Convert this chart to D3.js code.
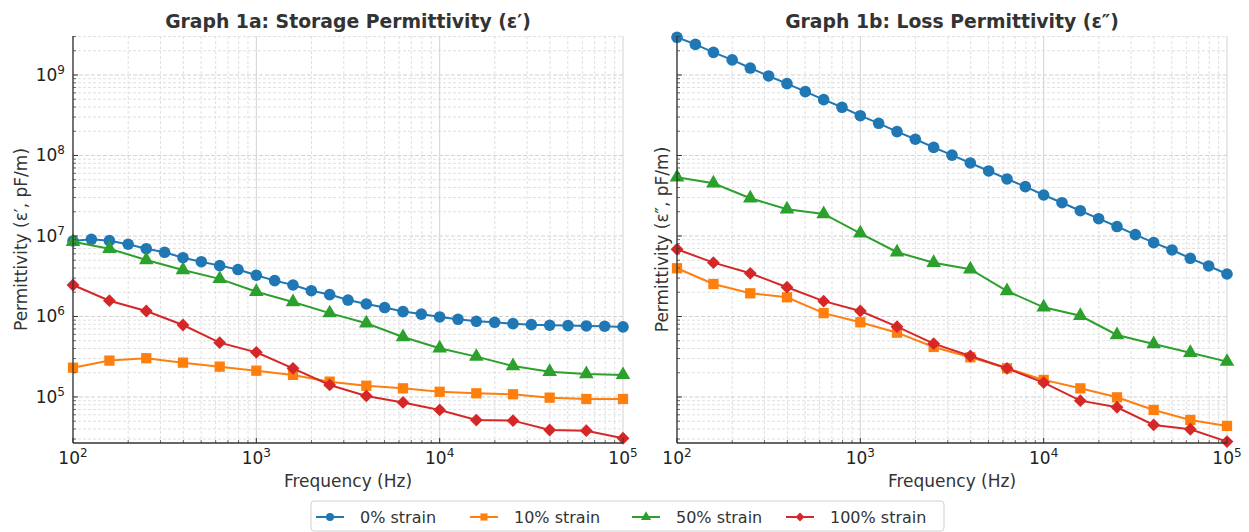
<!DOCTYPE html>
<html>
<head>
<meta charset="utf-8">
<script src="https://cdn.jsdelivr.net/npm/d3@7"></script>
<style>
  body { margin: 0; background: #fff; }
  svg { display: block; font-family: "DejaVu Sans", sans-serif; }
</style>
</head>
<body>
<svg id="chart" width="1249" height="532"></svg>
<script>
// frequencies (Hz)
const freqFine = [100, 126, 158, 200, 251, 316, 398, 501, 631, 794,
  1000, 1259, 1585, 1995, 2512, 3162, 3981, 5012, 6310, 7943,
  10000, 12589, 15849, 19953, 25119, 31623, 39811, 50119, 63096, 79433, 100000];
const freqCoarse = [100, 158, 251, 398, 631, 1000, 1585, 2512, 3981, 6310,
  10000, 15849, 25119, 39811, 63096, 100000];

const seriesNames = ["0% strain", "10% strain", "50% strain", "100% strain"];
const colors = ["#1f77b4", "#ff7f0e", "#2ca02c", "#d62728"];
const markers = ["circle", "square", "triangle", "diamond"];

// Graph 1a: storage permittivity
const storage0 = [8.67e6, 9.1e6, 8.75e6, 7.89e6, 6.95e6, 6.27e6, 5.37e6, 4.79e6, 4.28e6, 3.83e6,
  3.25e6, 2.79e6, 2.46e6, 2.09e6, 1.87e6, 1.60e6, 1.43e6, 1.29e6, 1.15e6, 1.07e6,
  9.87e5, 9.23e5, 8.71e5, 8.47e5, 8.14e5, 7.91e5, 7.78e5, 7.70e5, 7.62e5, 7.56e5, 7.42e5];
const storage10 = [2.31e5, 2.83e5, 3.03e5, 2.67e5, 2.38e5, 2.12e5, 1.88e5, 1.55e5, 1.38e5, 1.28e5,
  1.16e5, 1.11e5, 1.08e5, 9.8e4, 9.44e4, 9.44e4];
const storage50 = [8.49e6, 6.95e6, 5.04e6, 3.78e6, 2.93e6, 2.03e6, 1.51e6, 1.10e6, 8.24e5, 5.56e5,
  4.03e5, 3.17e5, 2.43e5, 2.06e5, 1.93e5, 1.88e5];
const storage100 = [2.46e6, 1.57e6, 1.17e6, 7.83e5, 4.73e5, 3.59e5, 2.27e5, 1.41e5, 1.03e5, 8.55e4,
  6.9e4, 5.17e4, 5.08e4, 3.89e4, 3.81e4, 3.07e4];

// Graph 1b: loss permittivity
const loss0 = [2.94e9, 2.40e9, 1.91e9, 1.54e9, 1.22e9, 9.72e8, 7.80e8, 6.21e8, 4.94e8, 3.97e8,
  3.12e8, 2.51e8, 1.98e8, 1.59e8, 1.26e8, 1.01e8, 8.07e7, 6.42e7, 5.11e7, 4.10e7,
  3.23e7, 2.59e7, 2.06e7, 1.64e7, 1.31e7, 1.04e7, 8.26e6, 6.70e6, 5.28e6, 4.24e6, 3.37e6];
const loss10 = [3.97e6, 2.53e6, 1.94e6, 1.73e6, 1.10e6, 8.47e5, 6.29e5, 4.18e5, 3.11e5, 2.27e5,
  1.63e5, 1.28e5, 9.9e4, 6.9e4, 5.18e4, 4.37e4];
const loss50 = [5.36e7, 4.52e7, 2.94e7, 2.15e7, 1.88e7, 1.08e7, 6.28e6, 4.66e6, 3.86e6, 2.07e6,
  1.30e6, 1.02e6, 5.89e5, 4.55e5, 3.55e5, 2.75e5];
const loss100 = [6.84e6, 4.66e6, 3.44e6, 2.31e6, 1.55e6, 1.17e6, 7.47e5, 4.59e5, 3.23e5, 2.27e5,
  1.51e5, 9.0e4, 7.45e4, 4.49e4, 3.97e4, 2.79e4];

const svg = d3.select("#chart");
const plotTop = 36, plotBottom = 443;
const yDomain = [2.68e4, 3.05e9];
const xDomain = [1e2, 1e5];

const y = d3.scaleLog().domain(yDomain).range([plotBottom, plotTop]);

function markerPath(kind, s) {
  if (kind === "circle") return d3.symbol(d3.symbolCircle, s * s * 0.8)();
  if (kind === "square") return d3.symbol(d3.symbolSquare, s * s * 0.8)();
  if (kind === "triangle") return d3.symbol(d3.symbolTriangle, s * s * 0.7)();
  return d3.symbol(d3.symbolSquare, s * s * 0.62)();
}

function supLabel(sel, exp) {
  sel.append("tspan").text("10");
  sel.append("tspan").attr("font-size", 12).attr("dy", -7).text(exp);
}

function drawPanel(opts) {
  const x = d3.scaleLog().domain(xDomain).range([opts.left, opts.right]);
  const g = svg.append("g");

  // minor and major grid
  const xMinor = [], yMinor = [];
  for (let e = 2; e < 5; e++) for (let m = 2; m <= 9; m++) xMinor.push(m * 10 ** e);
  for (let e = 4; e < 10; e++) for (let m = 2; m <= 9; m++) {
    const v = m * 10 ** e;
    if (v >= yDomain[0] && v <= yDomain[1]) yMinor.push(v);
  }
  const xMajor = [1e2, 1e3, 1e4, 1e5];
  const yMajor = [1e5, 1e6, 1e7, 1e8, 1e9];

  g.selectAll(".xminor").data(xMinor).join("line")
    .attr("x1", d => x(d)).attr("x2", d => x(d)).attr("y1", plotTop).attr("y2", plotBottom)
    .attr("stroke", "#dcdcdc").attr("stroke-width", 0.9).attr("stroke-dasharray", "3,2");
  g.selectAll(".yminor").data(yMinor).join("line")
    .attr("x1", opts.left).attr("x2", opts.right).attr("y1", d => y(d)).attr("y2", d => y(d))
    .attr("stroke", "#dcdcdc").attr("stroke-width", 0.9).attr("stroke-dasharray", "3,2");
  g.selectAll(".xmajor").data(xMajor).join("line")
    .attr("x1", d => x(d)).attr("x2", d => x(d)).attr("y1", plotTop).attr("y2", plotBottom)
    .attr("stroke", "#d2d2d2").attr("stroke-width", 1);
  g.selectAll(".ymajor").data(yMajor).join("line")
    .attr("x1", opts.left).attr("x2", opts.right).attr("y1", d => y(d)).attr("y2", d => y(d))
    .attr("stroke", "#d2d2d2").attr("stroke-width", 1).attr("stroke-dasharray", "4,2");

  // series
  opts.series.forEach((vals, i) => {
    const fx = vals.length === freqFine.length ? freqFine : freqCoarse;
    const pts = vals.map((v, j) => [fx[j], v]);
    g.append("path")
      .attr("d", d3.line().x(d => x(d[0])).y(d => y(d[1]))(pts))
      .attr("fill", "none").attr("stroke", colors[i]).attr("stroke-width", 2);
    g.selectAll(null).data(pts).join("path")
      .attr("d", markerPath(markers[i], 11.5))
      .attr("transform", d => `translate(${x(d[0])},${y(d[1])})` + (markers[i] === "diamond" ? " rotate(45)" : ""))
      .attr("fill", colors[i]);
  });

  // spines
  g.append("line").attr("x1", opts.left).attr("x2", opts.left).attr("y1", plotTop).attr("y2", plotBottom)
    .attr("stroke", "#333").attr("stroke-width", 1.3);
  g.append("line").attr("x1", opts.left).attr("x2", opts.right).attr("y1", plotBottom).attr("y2", plotBottom)
    .attr("stroke", "#333").attr("stroke-width", 1.3);

  // ticks (inward)
  g.selectAll(".xt").data(xMajor).join("line")
    .attr("x1", d => x(d)).attr("x2", d => x(d)).attr("y1", plotBottom).attr("y2", plotBottom - 5)
    .attr("stroke", "#333");
  g.selectAll(".xmt").data(xMinor).join("line")
    .attr("x1", d => x(d)).attr("x2", d => x(d)).attr("y1", plotBottom).attr("y2", plotBottom - 3)
    .attr("stroke", "#333").attr("stroke-width", 0.7);
  g.selectAll(".yt").data(yMajor).join("line")
    .attr("x1", opts.left).attr("x2", opts.left + 5).attr("y1", d => y(d)).attr("y2", d => y(d))
    .attr("stroke", "#333");
  g.selectAll(".ymt").data(yMinor).join("line")
    .attr("x1", opts.left).attr("x2", opts.left + 3).attr("y1", d => y(d)).attr("y2", d => y(d))
    .attr("stroke", "#333").attr("stroke-width", 0.7);

  // tick labels
  xMajor.forEach(v => {
    const t = g.append("text").attr("x", x(v)).attr("y", plotBottom + 21)
      .attr("text-anchor", "middle").attr("font-size", 17).attr("fill", "#222");
    supLabel(t, Math.round(Math.log10(v)));
  });
  if (opts.yLabels) {
    yMajor.forEach(v => {
      const t = g.append("text").attr("x", opts.left - 8).attr("y", y(v) + 6)
        .attr("text-anchor", "end").attr("font-size", 17).attr("fill", "#222");
      supLabel(t, Math.round(Math.log10(v)));
    });
  }

  // titles
  const cx = (opts.left + opts.right) / 2;
  g.append("text").attr("x", cx).attr("y", 28).attr("text-anchor", "middle")
    .attr("font-size", 18.8).attr("font-weight", "bold").attr("fill", "#333").text(opts.title);
  g.append("text").attr("x", cx).attr("y", 487).attr("text-anchor", "middle")
    .attr("font-size", 17).attr("fill", "#333").text("Frequency (Hz)");
  g.append("text").attr("transform", `translate(${opts.ylabelX},${(plotTop + plotBottom) / 2}) rotate(-90)`)
    .attr("text-anchor", "middle").attr("font-size", 17).attr("fill", "#333").text(opts.ylabel);
}

drawPanel({
  left: 73, right: 623, yLabels: true, ylabelX: 27,
  title: "Graph 1a: Storage Permittivity (ε′)",
  ylabel: "Permittivity (ε′, pF/m)",
  series: [storage0, storage10, storage50, storage100]
});
drawPanel({
  left: 677, right: 1227, yLabels: false, ylabelX: 668,
  title: "Graph 1b: Loss Permittivity (ε″)",
  ylabel: "Permittivity (ε″, pF/m)",
  series: [loss0, loss10, loss50, loss100]
});

// legend
const lg = svg.append("g");
lg.append("rect").attr("x", 311).attr("y", 501).attr("width", 633).attr("height", 30)
  .attr("rx", 3).attr("fill", "#fff").attr("stroke", "#d0d0d0");
const legendX = [330, 484, 646, 800];
seriesNames.forEach((name, i) => {
  const cx = legendX[i], cy = 517;
  lg.append("line").attr("x1", cx - 14).attr("x2", cx + 14).attr("y1", cy).attr("y2", cy)
    .attr("stroke", colors[i]).attr("stroke-width", 2);
  lg.append("path").attr("d", markerPath(markers[i], 8))
    .attr("transform", `translate(${cx},${cy})` + (markers[i] === "diamond" ? " rotate(45)" : ""))
    .attr("fill", colors[i]);
  lg.append("text").attr("x", cx + 30).attr("y", cy + 5.5).attr("font-size", 16)
    .attr("fill", "#333").text(name);
});
</script>
</body>
</html>
